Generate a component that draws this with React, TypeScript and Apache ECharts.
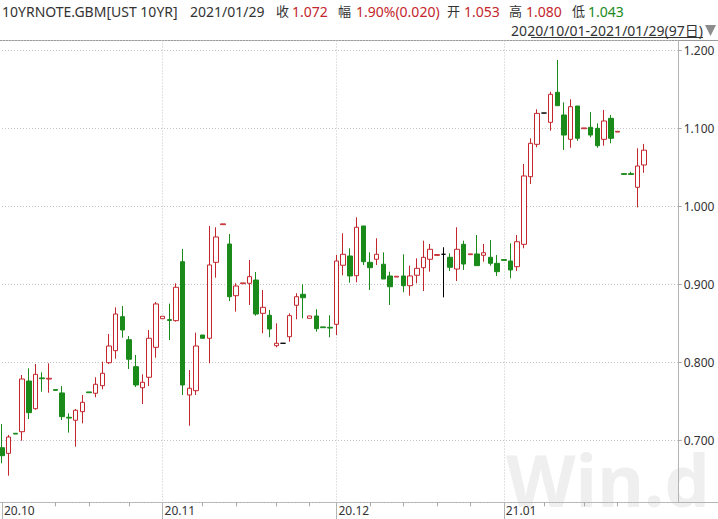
import React, { useEffect, useRef } from 'react';
import * as echarts from 'echarts';

// ---- data ----
const monthLabels = ['20.10', '20.11', '20.12', '21.01'];
const sessionsPerMonth = [24, 26, 25, 22];
const monthStarts = [0, 24, 50, 75];
const weekTicks = [0, 8, 13, 19, 24, 30, 35, 41, 46, 50, 55, 60, 65, 70, 75, 81, 87, 92];
const emptySlots = 5;

const open = [
  0.6905, 0.6833, 0.709, 0.711, 0.776, 0.7405, 0.78, 0.7785, 0.765, 0.7607,
  0.7295, 0.7257, 0.7367, 0.762, 0.7603, 0.77, 0.7995, 0.8149, 0.8585, 0.829,
  0.7944, 0.7674, 0.7808, 0.8192, 0.8559, 0.8547, 0.8534, 0.929, 0.7581, 0.7636,
  0.835, 0.8308, 0.9282, 0.9765, 0.9517, 0.8854, 0.9008, 0.9013, 0.9055, 0.8628,
  0.8603, 0.8213, 0.8244, 0.8328, 0.8731, 0.8872, 0.8564, 0.8594, 0.8454, 0.8449,
  0.8487, 0.9244, 0.9363, 0.911, 0.9748, 0.9282, 0.9321, 0.9257, 0.9107, 0.9093,
  0.9107, 0.8982, 0.9116, 0.9213, 0.9321, 0.9371, 0.9385, 0.9346, 0.9196, 0.9513,
  0.938, 0.9389, 0.9372, 0.9346, 0.9269, 0.9317, 0.9299, 0.9226, 0.9513, 1.038,
  1.0795, 1.1196, 1.1077, 1.1462, 1.1171, 1.0859, 1.1286, 1.0995, 1.1013, 1.1,
  1.0859, 1.1128, 1.0952, 1.0419, 1.0419, 1.0244, 1.053,
];
const close = [
  0.6803, 0.7042, 0.708, 0.7786, 0.7354, 0.7846, 0.779, 0.7795, 0.764, 0.7303,
  0.7285, 0.7385, 0.7487, 0.761, 0.7718, 0.7859, 0.8209, 0.8619, 0.8414, 0.8039,
  0.7709, 0.7744, 0.8308, 0.8748, 0.859, 0.8537, 0.8962, 0.7709, 0.7667, 0.8209,
  0.8308, 0.9248, 0.9607, 0.9775, 0.8841, 0.8978, 0.9018, 0.9098, 0.8619, 0.8705,
  0.8427, 0.8244, 0.8244, 0.8598, 0.8841, 0.8828, 0.8594, 0.8431, 0.8444, 0.8439,
  0.9299, 0.9385, 0.9107, 0.9731, 0.929, 0.9213, 0.9385, 0.9068, 0.8969, 0.9103,
  0.8982, 0.9107, 0.9205, 0.9346, 0.9449, 0.9381, 0.9385, 0.9218, 0.9449, 0.926,
  0.939, 0.9239, 0.9405, 0.9269, 0.9162, 0.9307, 0.9184, 0.9546, 1.0389, 1.0808,
  1.1192, 1.1196, 1.1436, 1.129, 1.0914, 1.1277, 1.0872, 1.1005, 1.0914, 1.0777,
  1.1094, 1.0872, 1.0962, 1.0409, 1.0409, 1.0517, 1.072,
];
const low = [
  0.6705, 0.6546, 0.708, 0.6995, 0.7273, 0.7392, 0.7623, 0.761, 0.764, 0.726,
  0.7098, 0.6918, 0.7218, 0.761, 0.7551, 0.7654, 0.7978, 0.8046, 0.8316, 0.7914,
  0.7683, 0.7465, 0.7696, 0.8059, 0.8559, 0.8286, 0.8521, 0.7581, 0.7187, 0.7581,
  0.8308, 0.7987, 0.9085, 0.9765, 0.8786, 0.8649, 0.9008, 0.8735, 0.8597, 0.8372,
  0.8321, 0.8192, 0.8244, 0.8264, 0.8551, 0.8564, 0.8564, 0.8392, 0.8444, 0.8321,
  0.835, 0.9115, 0.9021, 0.9026, 0.9248, 0.8927, 0.9248, 0.9068, 0.8735, 0.9093,
  0.8898, 0.8854, 0.9013, 0.8914, 0.9162, 0.9371, 0.8833, 0.9171, 0.9042, 0.9184,
  0.938, 0.9239, 0.929, 0.9239, 0.9107, 0.9307, 0.9077, 0.9171, 0.9462, 1.0286,
  1.0757, 1.1196, 1.0969, 1.129, 1.0722, 1.0751, 1.0841, 1.0995, 1.0885, 1.0751,
  1.0777, 1.0808, 1.0952, 1.0409, 1.0409, 0.9987, 1.043,
];
const high = [
  0.7209, 0.7068, 0.709, 0.7837, 0.7923, 0.7978, 0.7872, 0.7987, 0.765, 0.7696,
  0.7346, 0.7401, 0.7581, 0.762, 0.7808, 0.8008, 0.8363, 0.8705, 0.8722, 0.8337,
  0.8094, 0.7846, 0.8414, 0.8773, 0.859, 0.8752, 0.9013, 0.9453, 0.7901, 0.838,
  0.835, 0.9748, 0.9731, 0.9775, 0.9645, 0.9013, 0.9018, 0.9312, 0.9158, 0.8927,
  0.8671, 0.85, 0.8244, 0.8628, 0.8885, 0.9, 0.8594, 0.868, 0.8454, 0.8603,
  0.9376, 0.9654, 0.9462, 0.9859, 0.9748, 0.941, 0.959, 0.941, 0.9162, 0.9103,
  0.9385, 0.9239, 0.9333, 0.9559, 0.9517, 0.9381, 0.9475, 0.9397, 0.9731, 0.9559,
  0.939, 0.9632, 0.9517, 0.9568, 0.9376, 0.9317, 0.9526, 0.9632, 1.0542, 1.0872,
  1.1244, 1.1196, 1.1469, 1.1876, 1.1333, 1.1372, 1.1286, 1.1005, 1.1209, 1.1064,
  1.1235, 1.1171, 1.0962, 1.0419, 1.0443, 1.0744, 1.08,
];

const headerItems = [
  { text: '10YRNOTE.GBM[UST 10YR]', kind: 'label' },
  { text: '2021/01/29', kind: 'label' },
  { text: '收', kind: 'cjk' },
  { text: '1.072', kind: 'up' },
  { text: '幅', kind: 'cjk' },
  { text: '1.90%(0.020)', kind: 'up' },
  { text: '开', kind: 'cjk' },
  { text: '1.053', kind: 'up' },
  { text: '高', kind: 'cjk' },
  { text: '1.080', kind: 'up' },
  { text: '低', kind: 'cjk' },
  { text: '1.043', kind: 'down' },
];
const rangeText = '2020/10/01-2021/01/29(97日)';
const watermarkText = 'Win.d';

// ---- style ----
const RED = '#c3262c';
const GREEN = '#1a8a1a';
const TXT = '#333333';
const FONT = "'Noto Sans', 'Noto Sans CJK SC', sans-serif";
const headerX = [2, 190, 276, 292, 338, 356, 447, 464, 509, 526, 572, 588];

export default function App() {
  const ref = useRef<HTMLDivElement>(null);

  useEffect(() => {
    if (!ref.current) return;
    const chart = echarts.init(ref.current, undefined, { renderer: 'svg' });

    const categories: string[] = [];
    monthLabels.forEach((m, k) => {
      for (let j = 1; j <= sessionsPerMonth[k]; j++) categories.push(`${m}#${j}`);
    });
    for (let k = 0; k < emptySlots; k++) categories.push(`empty${k}`);
    const labelAt: Record<number, string> = {};
    monthStarts.forEach((s, k) => (labelAt[s] = monthLabels[k]));

    const data = open.map((o, i) => [o, close[i], low[i], high[i]]);

    const dotted = { color: '#c4c4c4', width: 1, type: [1, 2] as any };

    const headerGraphics = headerItems.map((h, i) => ({
      type: 'text',
      x: headerX[i],
      y: 11,
      style: {
        text: h.text,
        fill: h.kind === 'up' ? RED : h.kind === 'down' ? GREEN : TXT,
        fontSize: h.kind === 'cjk' ? 13 : 14,
        fontFamily: FONT,
        align: 'left',
        verticalAlign: 'middle',
      },
    }));

    chart.setOption({
      animation: false,
      backgroundColor: '#ffffff',
      grid: { left: 2, right: 40.3, top: 40.5, bottom: 16.7, containLabel: false },
      xAxis: [
        {
          type: 'category',
          data: categories,
          boundaryGap: false,
          axisLine: { show: false, onZero: false },
          axisTick: {
            show: true,
            length: 4,
            interval: (i: number) => weekTicks.includes(i),
            lineStyle: { color: '#a8a8a8' },
          },
          axisLabel: { show: false },
          splitLine: {
            show: true,
            interval: (i: number) => monthStarts.includes(i) && i > 0,
            lineStyle: dotted,
          },
        },
        {
          type: 'category',
          data: categories,
          boundaryGap: false,
          position: 'bottom',
          axisLine: { show: false, onZero: false },
          axisTick: {
            show: true,
            length: 17,
            interval: (i: number) => monthStarts.includes(i),
            lineStyle: { color: '#b4b4b4' },
          },
          axisLabel: {
            show: true,
            interval: (i: number) => monthStarts.includes(i),
            formatter: (_v: string, i: number) => labelAt[i] ?? '',
            align: 'left',
            padding: [0, 0, 0, 2],
            margin: 2,
            color: TXT,
            fontSize: 12,
            fontFamily: FONT,
          },
          splitLine: { show: false },
        },
      ],
      yAxis: {
        type: 'value',
        position: 'right',
        min: 0.6205,
        max: 1.2126,
        minInterval: 0.1,
        maxInterval: 0.1,
        splitNumber: 6,
        scale: true,
        axisLine: { show: false },
        axisTick: { show: true, length: 4, lineStyle: { color: '#a8a8a8' } },
        axisLabel: {
          formatter: (v: number) => v.toFixed(3),
          showMinLabel: false,
          showMaxLabel: false,
          margin: 6,
          color: TXT,
          fontSize: 12,
          fontFamily: FONT,
        },
        splitLine: { show: true, lineStyle: dotted },
      },
      series: [
        {
          type: 'candlestick',
          xAxisIndex: 0,
          data,
          barWidth: 5,
          clip: false,
          itemStyle: {
            color: '#ffffff',
            borderColor: RED,
            color0: GREEN,
            borderColor0: GREEN,
            borderColorDoji: '#000000',
            borderWidth: 1,
          },
        },
      ],
      graphic: [
        {
          type: 'text',
          x: 506,
          y: 479,
          z: -5,
          style: {
            text: watermarkText,
            fill: '#efefef',
            fontSize: 72,
            fontWeight: 'bold',
            fontFamily: FONT,
            align: 'left',
            verticalAlign: 'middle',
          },
        },
        ...headerGraphics,
        {
          type: 'text',
          x: 703,
          y: 30,
          style: {
            text: rangeText,
            fill: TXT,
            fontSize: 14,
            fontFamily: FONT,
            align: 'right',
            verticalAlign: 'middle',
          },
        },
        { type: 'line', shape: { x1: 531, y1: 37.5, x2: 703, y2: 37.5 }, style: { stroke: TXT, lineWidth: 1 } },
        { type: 'polygon', shape: { points: [[705, 25], [716, 25], [710.5, 36]] }, style: { fill: '#8c8c8c' } },
        { type: 'line', shape: { x1: 0, y1: 40.5, x2: 718, y2: 40.5 }, style: { stroke: '#9a9a9a', lineWidth: 1 } },
        { type: 'line', shape: { x1: 0, y1: 502.5, x2: 718, y2: 502.5 }, style: { stroke: '#b4b4b4', lineWidth: 1 } },
        { type: 'line', shape: { x1: 678.5, y1: 40.5, x2: 678.5, y2: 502.5 }, style: { stroke: '#b4b4b4', lineWidth: 1 } },
      ],
    });

    return () => chart.dispose();
  }, []);

  return (
    <div
      ref={ref}
      style={{ position: 'fixed', left: 0, top: 0, width: 718, height: 519, background: '#fff' }}
    />
  );
}
